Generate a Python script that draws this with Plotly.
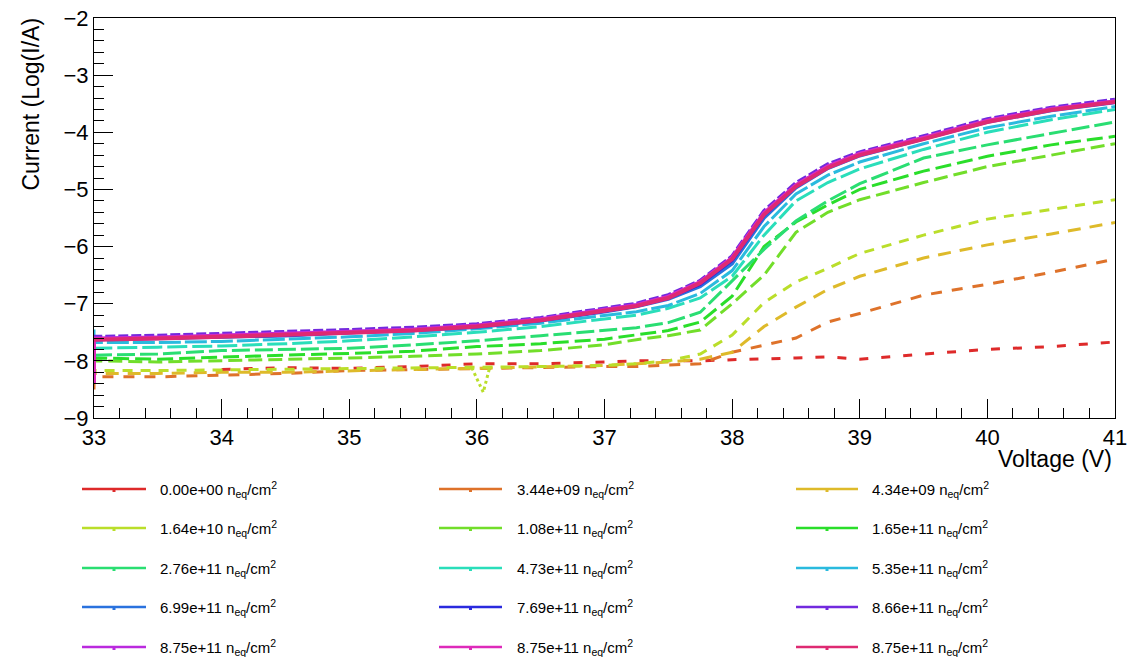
import plotly.graph_objects as go

# ---------------- data ----------------
voltage = [33.0, 33.5, 34.0, 34.5, 35.0, 35.5, 36.0, 36.5, 37.0, 37.25, 37.5,
           37.75, 38.0, 38.25, 38.5, 38.75, 39.0, 39.5, 40.0, 40.5, 41.0]

fluence_labels = ["0.00e+00", "3.44e+09", "4.34e+09",
                  "1.64e+10", "1.08e+11", "1.65e+11",
                  "2.76e+11", "4.73e+11", "5.35e+11",
                  "6.99e+11", "7.69e+11", "8.66e+11",
                  "8.75e+11", "8.75e+11", "8.75e+11"]

# first (transient) reading at 33 V for each series, log10(I/A)
start_current = [-8.92, -8.5, -8.4, -8.3, -8.1, -8.0, -7.9, -7.75, -7.45,
                 -7.6, -7.6, -7.55, -7.6, -8.4, -7.65]

cur_0p00e00 = [None, None, -8.15, -8.12, -8.13, -8.1, -8.05, -8.05, -8.02, -8.0, -8.0,
               -8.0, -7.98, -7.97, -7.95, -7.93, -7.97, -7.88, -7.8, -7.75, -7.67]
cur_3p44e09 = [-8.28, -8.28, -8.25, -8.22, -8.17, -8.15, -8.13, -8.12, -8.1, -8.1, -8.08,
               -8.05, -7.85, -7.72, -7.6, -7.32, -7.17, -6.85, -6.66, -6.45, -6.22]
cur_4p34e09 = [-8.22, -8.22, -8.2, -8.2, -8.17, -8.15, -8.13, -8.1, -8.08, -8.05, -8.02,
               -7.97, -7.85, -7.4, -7.06, -6.75, -6.52, -6.2, -5.97, -5.78, -5.58]
cur_1p64e10 = [-8.17, -8.17, -8.16, -8.15, -8.13, -8.12, -8.12, -8.1, -8.08, -8.05, -8.0,
               -7.88, -7.55, -6.98, -6.62, -6.38, -6.12, -5.8, -5.52, -5.35, -5.18]
# short excursion of the 1.64e+10 series near 36 V
dip_voltage = [35.96, 36.05, 36.1]
dip_current = [-8.12, -8.55, -8.12]
cur_1p08e11 = [-8.0, -8.02, -8.0, -7.97, -7.95, -7.92, -7.88, -7.82, -7.72, -7.63, -7.56,
               -7.46, -7.0, -6.5, -5.75, -5.4, -5.18, -4.88, -4.6, -4.4, -4.2]
cur_1p65e11 = [-7.95, -7.97, -7.93, -7.9, -7.87, -7.83, -7.75, -7.7, -7.62, -7.55, -7.47,
               -7.32, -6.87, -6.0, -5.57, -5.27, -5.0, -4.68, -4.42, -4.22, -4.07]
cur_2p76e11 = [-7.9, -7.88, -7.82, -7.8, -7.78, -7.72, -7.65, -7.56, -7.47, -7.42, -7.33,
               -7.15, -6.6, -6.05, -5.55, -5.2, -4.9, -4.45, -4.22, -4.02, -3.82]
cur_4p73e11 = [-7.78, -7.76, -7.74, -7.7, -7.65, -7.58, -7.5, -7.4, -7.27, -7.2, -7.08,
               -6.9, -6.52, -5.8, -5.2, -4.88, -4.64, -4.3, -4.0, -3.78, -3.6]
cur_5p35e11 = [-7.68, -7.68, -7.66, -7.62, -7.58, -7.52, -7.44, -7.34, -7.2, -7.14, -7.03,
               -6.82, -6.42, -5.65, -5.08, -4.75, -4.52, -4.2, -3.92, -3.72, -3.55]
cur_6p99e11 = [-7.63, -7.61, -7.58, -7.56, -7.51, -7.47, -7.41, -7.3, -7.14, -7.05, -6.92,
               -6.7, -6.3, -5.5, -4.97, -4.63, -4.41, -4.12, -3.82, -3.62, -3.48]
cur_7p69e11 = [-7.62, -7.6, -7.57, -7.55, -7.5, -7.46, -7.4, -7.29, -7.13, -7.04, -6.9,
               -6.66, -6.24, -5.45, -4.95, -4.61, -4.39, -4.11, -3.81, -3.6, -3.47]
cur_8p66e11 = [-7.58, -7.56, -7.53, -7.5, -7.46, -7.42, -7.36, -7.25, -7.09, -7.0, -6.85,
               -6.6, -6.17, -5.38, -4.89, -4.56, -4.35, -4.07, -3.77, -3.57, -3.43]
cur_8p75e11_a = [-7.61, -7.59, -7.56, -7.53, -7.49, -7.45, -7.38, -7.27, -7.11, -7.02, -6.88,
                 -6.63, -6.2, -5.42, -4.93, -4.6, -4.38, -4.1, -3.8, -3.59, -3.46]
cur_8p75e11_b = [-7.62, -7.6, -7.57, -7.54, -7.5, -7.46, -7.39, -7.28, -7.12, -7.03, -6.88,
                 -6.62, -6.2, -5.42, -4.93, -4.6, -4.38, -4.1, -3.8, -3.6, -3.46]
cur_8p75e11_c = [-7.63, -7.61, -7.58, -7.55, -7.51, -7.47, -7.4, -7.29, -7.12, -7.04, -6.9,
                 -6.64, -6.22, -5.44, -4.95, -4.62, -4.4, -4.12, -3.82, -3.61, -3.47]

series_currents = [cur_0p00e00, cur_3p44e09, cur_4p34e09, cur_1p64e10, cur_1p08e11,
                   cur_1p65e11, cur_2p76e11, cur_4p73e11, cur_5p35e11, cur_6p99e11,
                   cur_7p69e11, cur_8p66e11, cur_8p75e11_a, cur_8p75e11_b, cur_8p75e11_c]

x_ticks = [33, 34, 35, 36, 37, 38, 39, 40, 41]
y_ticks = [-9, -8, -7, -6, -5, -4, -3, -2]

# ---------------- styles ----------------
colors = ["#de2a2a", "#de722a", "#deba2a", "#bade2a", "#72de2a", "#2ade2a",
          "#2ade72", "#2adeba", "#2abade", "#2a72de", "#2a2ade", "#722ade",
          "#ba2ade", "#de2aba", "#de2a72"]
dashes = ["9px,13px", "11px,10px", "13px,9px", "10px,8px", "14px,6px", "16px,6px",
          "18px,5px", "20px,5px", "22px,4px", "solid", "solid", "10px,3px",
          "solid", "solid", "solid"]
widths = [3, 3, 3, 3, 3, 3, 3, 3, 3, 3.5, 3.5, 4, 4, 4, 4]

FONT = "Liberation Sans, Arial, Helvetica, sans-serif"
W, H = 1130, 657
L, R, T, B = 94, 15, 18, 239
PW, PH = W - L - R, H - T - B


def px_x(px):
    return (px - L) / PW


def px_y(py):
    return (H - B - py) / PH


fig = go.Figure()
for i, cur in enumerate(series_currents):
    xs = [voltage[0]] + voltage
    ys = [start_current[i]] + cur
    if cur[0] is None:
        xs, ys = voltage, cur
    fig.add_trace(go.Scatter(
        x=xs, y=ys, mode="lines", connectgaps=False,
        line=dict(color=colors[i], width=widths[i], dash=dashes[i]),
        name=fluence_labels[i], showlegend=False, hoverinfo="skip"))
    if i == 3:
        fig.add_trace(go.Scatter(
            x=dip_voltage, y=dip_current, mode="lines",
            line=dict(color=colors[i], width=widths[i], dash="3px,3px"),
            showlegend=False, hoverinfo="skip"))

# manual legend (3 columns x 5 rows, row-major)
col_line_x = [(82, 146), (439, 502), (796, 858)]
col_text_x = [158, 515, 870]
row_y = [489, 528, 568, 607, 647]
shapes = []
annotations = []
for i, lab in enumerate(fluence_labels):
    r, c = divmod(i, 3)
    x0, x1 = col_line_x[c]
    yy = px_y(row_y[r])
    shapes.append(dict(type="line", xref="paper", yref="paper",
                       x0=px_x(x0), x1=px_x(x1), y0=yy, y1=yy,
                       line=dict(color=colors[i], width=2.5)))
    xm = (x0 + x1) / 2
    shapes.append(dict(type="rect", xref="paper", yref="paper",
                       x0=px_x(xm - 1.5), x1=px_x(xm + 1.5),
                       y0=px_y(row_y[r] + 3), y1=px_y(row_y[r] - 1),
                       line=dict(width=0), fillcolor=colors[i]))
    annotations.append(dict(
        xref="paper", yref="paper", x=px_x(col_text_x[c]), y=yy,
        xanchor="left", yanchor="middle", showarrow=False,
        text=f"{lab} n<sub>eq</sub>/cm<sup>2</sup>",
        font=dict(family=FONT, size=15, color="#000000")))

annotations.append(dict(
    xref="paper", yref="paper", x=px_x(1114), y=px_y(459),
    xanchor="right", yanchor="middle", showarrow=False,
    text="Voltage (V)", font=dict(family=FONT, size=23, color="#000000")))
annotations.append(dict(
    xref="paper", yref="paper", x=px_x(30), y=px_y(16),
    xanchor="center", yanchor="top", showarrow=False, textangle=-90,
    text="Current (Log(I/A)", font=dict(family=FONT, size=23, color="#000000")))

axis_common = dict(
    showline=True, linecolor="#000000", linewidth=1, mirror=True,
    ticks="inside", ticklen=19, tickwidth=1, tickcolor="#000000",
    showgrid=False, zeroline=False, automargin=False, ticklabeloverflow="allow",
    tickfont=dict(family=FONT, size=22, color="#000000"),
)

fig.update_layout(
    width=W, height=H, autosize=False,
    margin=dict(l=L, r=R, t=T, b=B, pad=0, autoexpand=False),
    paper_bgcolor="#ffffff", plot_bgcolor="#ffffff",
    showlegend=False,
    xaxis=dict(range=[33, 41], tickvals=x_ticks, ticktext=[str(v) for v in x_ticks],
               minor=dict(dtick=0.2, tick0=33, ticks="inside", ticklen=10,
                          tickcolor="#000000", tickwidth=1, showgrid=False),
               **axis_common),
    yaxis=dict(range=[-9, -2], tickvals=y_ticks,
               minor=dict(dtick=0.2, tick0=-9, ticks="inside", ticklen=10,
                          tickcolor="#000000", tickwidth=1, showgrid=False),
               **axis_common),
    shapes=shapes, annotations=annotations,
)

fig.write_html("out.html", config={"displayModeBar": False, "staticPlot": True})
